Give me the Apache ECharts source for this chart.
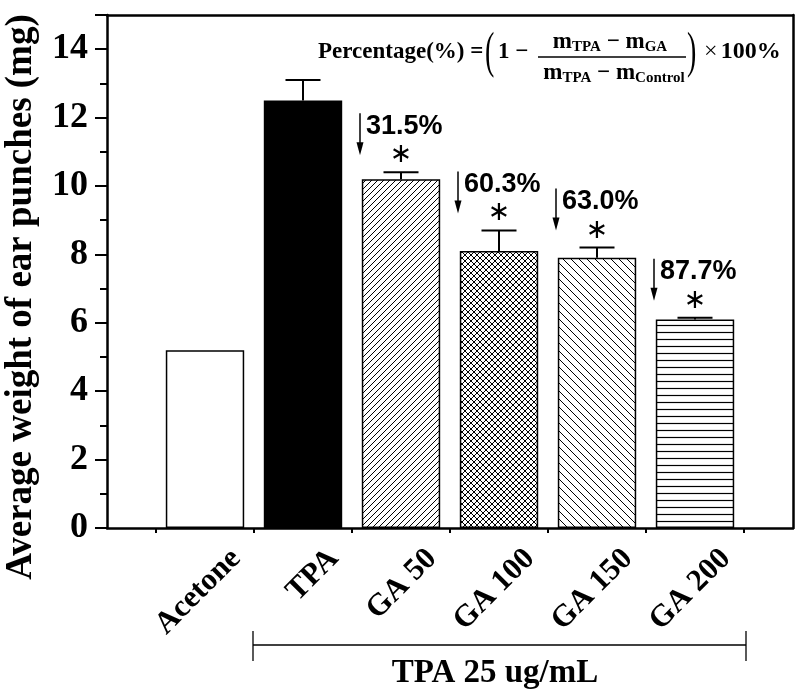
<!DOCTYPE html>
<html><head><meta charset="utf-8">
<script src="https://cdn.jsdelivr.net/npm/echarts@6/dist/echarts.min.js"></script>
<style>html,body{margin:0;padding:0;background:#fff}#c{width:798px;height:691px}</style>
</head><body><div id="c"></div>
<script>
// ---- data ----
const categories = ['Acetone', 'TPA', 'GA 50', 'GA 100', 'GA 150', 'GA 200'];
const means = [5.2, 12.5, 10.2, 8.1, 7.9, 6.1];
const sds = [0, 0.6, 0.2, 0.6, 0.3, 0.05];
const percentLabels = ['', '', '31.5%', '60.3%', '63.0%', '87.7%'];
const significance = ['', '', '∗', '∗', '∗', '∗'];
const yMin = 0, yMax = 15, yStep = 2;
const yTitle = 'Average weight of ear punches (mg)';
const groupLabel = 'TPA 25 ug/mL';

// ---- fill patterns (styles) ----
function pattern(type, size, lw) {
  const c = document.createElement('canvas');
  c.width = size; c.height = size;
  const g = c.getContext('2d');
  g.fillStyle = '#fff'; g.fillRect(0, 0, size, size);
  g.strokeStyle = '#000'; g.lineWidth = lw || 1;
  g.beginPath();
  if (type === 'fwd' || type === 'cross') {
    g.moveTo(0, size); g.lineTo(size, 0);
    g.moveTo(-2, 2); g.lineTo(2, -2);
    g.moveTo(size - 2, size + 2); g.lineTo(size + 2, size - 2);
  }
  if (type === 'back' || type === 'cross') {
    g.moveTo(0, 0); g.lineTo(size, size);
    g.moveTo(size - 2, -2); g.lineTo(size + 2, 2);
    g.moveTo(-2, size - 2); g.lineTo(2, size + 2);
  }
  if (type === 'horiz') {
    g.moveTo(0, size / 2); g.lineTo(size, size / 2);
  }
  g.stroke();
  return { image: c, repeat: 'repeat' };
}
const fills = ['#ffffff', '#000000', pattern('fwd', 6), pattern('cross', 6), pattern('back', 8), pattern('horiz', 7, 1.2)];

const chart = echarts.init(document.getElementById('c'));
const mathBold = 'bold 23px "Liberation Serif"';
const subBold = 'bold 15px "Liberation Serif"';

const option = {
  animation: false,
  backgroundColor: '#fff',
  grid: [
    { left: 107, top: 15, width: 686, height: 513 },
    { left: 156, top: 15, width: 588, height: 513 },
    { left: 187, top: 15, width: 588, height: 513 }
  ],
  xAxis: [
    { gridIndex: 0, type: 'value', min: 0, max: 1, axisLine: { show: true, onZero: false, lineStyle: { color: '#000', width: 2.5 } }, axisTick: { show: false }, axisLabel: { show: false }, splitLine: { show: false } },
    { gridIndex: 0, type: 'value', position: 'top', min: 0, max: 1, axisLine: { show: true, onZero: false, lineStyle: { color: '#000', width: 2.5 } }, axisTick: { show: false }, axisLabel: { show: false }, splitLine: { show: false } },
    { gridIndex: 1, type: 'category', data: categories, axisLine: { show: false }, axisTick: { show: true, inside: false, length: 5, lineStyle: { color: '#000', width: 2 } }, axisLabel: { show: false } },
    { gridIndex: 2, type: 'category', data: categories, axisLine: { show: false }, axisTick: { show: false },
      axisLabel: { show: true, rotate: 45, margin: 26, interval: 0, color: '#000', fontFamily: 'Liberation Serif', fontWeight: 'bold', fontSize: 31 } }
  ],
  yAxis: [
    { gridIndex: 0, type: 'value', min: yMin, max: yMax, interval: yStep,
      axisLine: { show: true, onZero: false, lineStyle: { color: '#000', width: 2.5 } },
      axisTick: { show: true, length: 12, lineStyle: { color: '#000', width: 2 } },
      minorTick: { show: true, splitNumber: 2, length: 7, lineStyle: { color: '#000', width: 2 } },
      axisLabel: { show: true, margin: 19, color: '#000', fontFamily: 'Liberation Serif', fontWeight: 'bold', fontSize: 36, showMaxLabel: false },
      splitLine: { show: false } },
    { gridIndex: 0, type: 'value', position: 'right', min: yMin, max: yMax, axisLine: { show: true, onZero: false, lineStyle: { color: '#000', width: 2.5 } }, axisTick: { show: false }, axisLabel: { show: false }, splitLine: { show: false } },
    { gridIndex: 1, type: 'value', min: yMin, max: yMax, show: false },
    { gridIndex: 2, type: 'value', min: yMin, max: yMax, show: false }
  ],
  series: [
    { type: 'bar', xAxisIndex: 2, yAxisIndex: 2, barCategoryGap: '20%',
      data: means.map((v, i) => ({ value: v, itemStyle: { color: fills[i], borderColor: '#000', borderWidth: 1.5 } })) },
    { type: 'custom', xAxisIndex: 2, yAxisIndex: 2,
      data: means.map((v, i) => [i, v, sds[i]]),
      renderItem: function (params, api) {
        const i = api.value(0), m = api.value(1), s = api.value(2);
        if (!(s > 0)) return null;
        const p0 = api.coord([i, m]), p1 = api.coord([i, m + s]);
        return { type: 'group', children: [
          { type: 'line', shape: { x1: p0[0], y1: p0[1], x2: p1[0], y2: p1[1] }, style: { stroke: '#000', lineWidth: 2 } },
          { type: 'line', shape: { x1: p1[0] - 17.5, y1: p1[1], x2: p1[0] + 17.5, y2: p1[1] }, style: { stroke: '#000', lineWidth: 2 } }
        ] };
      } },
    { type: 'custom', xAxisIndex: 2, yAxisIndex: 2,
      data: means.map((v, i) => [i, v + sds[i]]),
      renderItem: function (params, api) {
        const i = params.dataIndex;
        if (!percentLabels[i]) return null;
        const p = api.coord([api.value(0), api.value(1)]);
        const tc = p[1] - 46;
        const ax = p[0] - 41;
        return { type: 'group', children: [
          { type: 'text', x: p[0], y: p[1] - 17, style: { text: significance[i], font: '27px "DejaVu Sans"', fill: '#000', align: 'center', verticalAlign: 'middle' } },
          { type: 'text', x: p[0] - 35, y: tc, style: { text: percentLabels[i], font: 'bold 27px "Liberation Sans"', fill: '#000', align: 'left', verticalAlign: 'middle' } },
          { type: 'line', shape: { x1: ax, y1: tc - 13, x2: ax, y2: tc + 18 }, style: { stroke: '#000', lineWidth: 1.5 } },
          { type: 'polygon', shape: { points: [[ax - 3.5, tc + 16], [ax + 3.5, tc + 16], [ax, tc + 29]] }, style: { fill: '#000' } }
        ] };
      } }
  ],
  graphic: [
    { type: 'text', x: 21, y: 297, rotation: Math.PI / 2, style: { text: yTitle, font: 'bold 37px "Liberation Serif"', fill: '#000', align: 'center', verticalAlign: 'middle' } },
    { type: 'line', shape: { x1: 253, y1: 645, x2: 746, y2: 645 }, style: { stroke: '#000', lineWidth: 1.3 } },
    { type: 'line', shape: { x1: 253, y1: 631, x2: 253, y2: 661 }, style: { stroke: '#000', lineWidth: 1.3 } },
    { type: 'line', shape: { x1: 746, y1: 631, x2: 746, y2: 661 }, style: { stroke: '#000', lineWidth: 1.3 } },
    { type: 'text', x: 495, y: 673, style: { text: groupLabel, font: 'bold 33px "Liberation Serif"', fill: '#000', align: 'center', verticalAlign: 'middle' } },
    // formula
    { type: 'text', x: 318, y: 52, style: { text: 'Percentage(%) =', font: mathBold, fill: '#000', align: 'left', verticalAlign: 'middle' } },
    { type: 'text', x: 485, y: 54, scaleY: 1.8, style: { text: '(', font: '28px "Liberation Serif"', fill: '#000', align: 'left', verticalAlign: 'middle' } },
    { type: 'text', x: 498, y: 52, style: { text: '1 −', font: mathBold, fill: '#000', align: 'left', verticalAlign: 'middle' } },
    { type: 'line', shape: { x1: 538, y1: 57, x2: 686, y2: 57 }, style: { stroke: '#000', lineWidth: 1.5 } },
    { type: 'text', x: 610, y: 42, style: { text: '{m|m}{s|TPA}{m| − m}{s|GA}', align: 'center', verticalAlign: 'middle', fill: '#000',
      rich: { m: { font: mathBold, lineHeight: 26, verticalAlign: 'middle' }, s: { font: subBold, lineHeight: 15, verticalAlign: 'bottom' } } } },
    { type: 'text', x: 614, y: 73, style: { text: '{m|m}{s|TPA}{m| − m}{s|Control}', align: 'center', verticalAlign: 'middle', fill: '#000',
      rich: { m: { font: mathBold, lineHeight: 26, verticalAlign: 'middle' }, s: { font: subBold, lineHeight: 15, verticalAlign: 'bottom' } } } },
    { type: 'text', x: 687, y: 54, scaleY: 1.8, style: { text: ')', font: '28px "Liberation Serif"', fill: '#000', align: 'left', verticalAlign: 'middle' } },
    { type: 'text', x: 704, y: 52, style: { text: '{n|×} {b|100%}', align: 'left', verticalAlign: 'middle', fill: '#000',
      rich: { n: { font: '24px "Liberation Serif"' }, b: { font: 'bold 24px "Liberation Serif"' } } } }
  ]
};
chart.setOption(option);
</script>
</body></html>
